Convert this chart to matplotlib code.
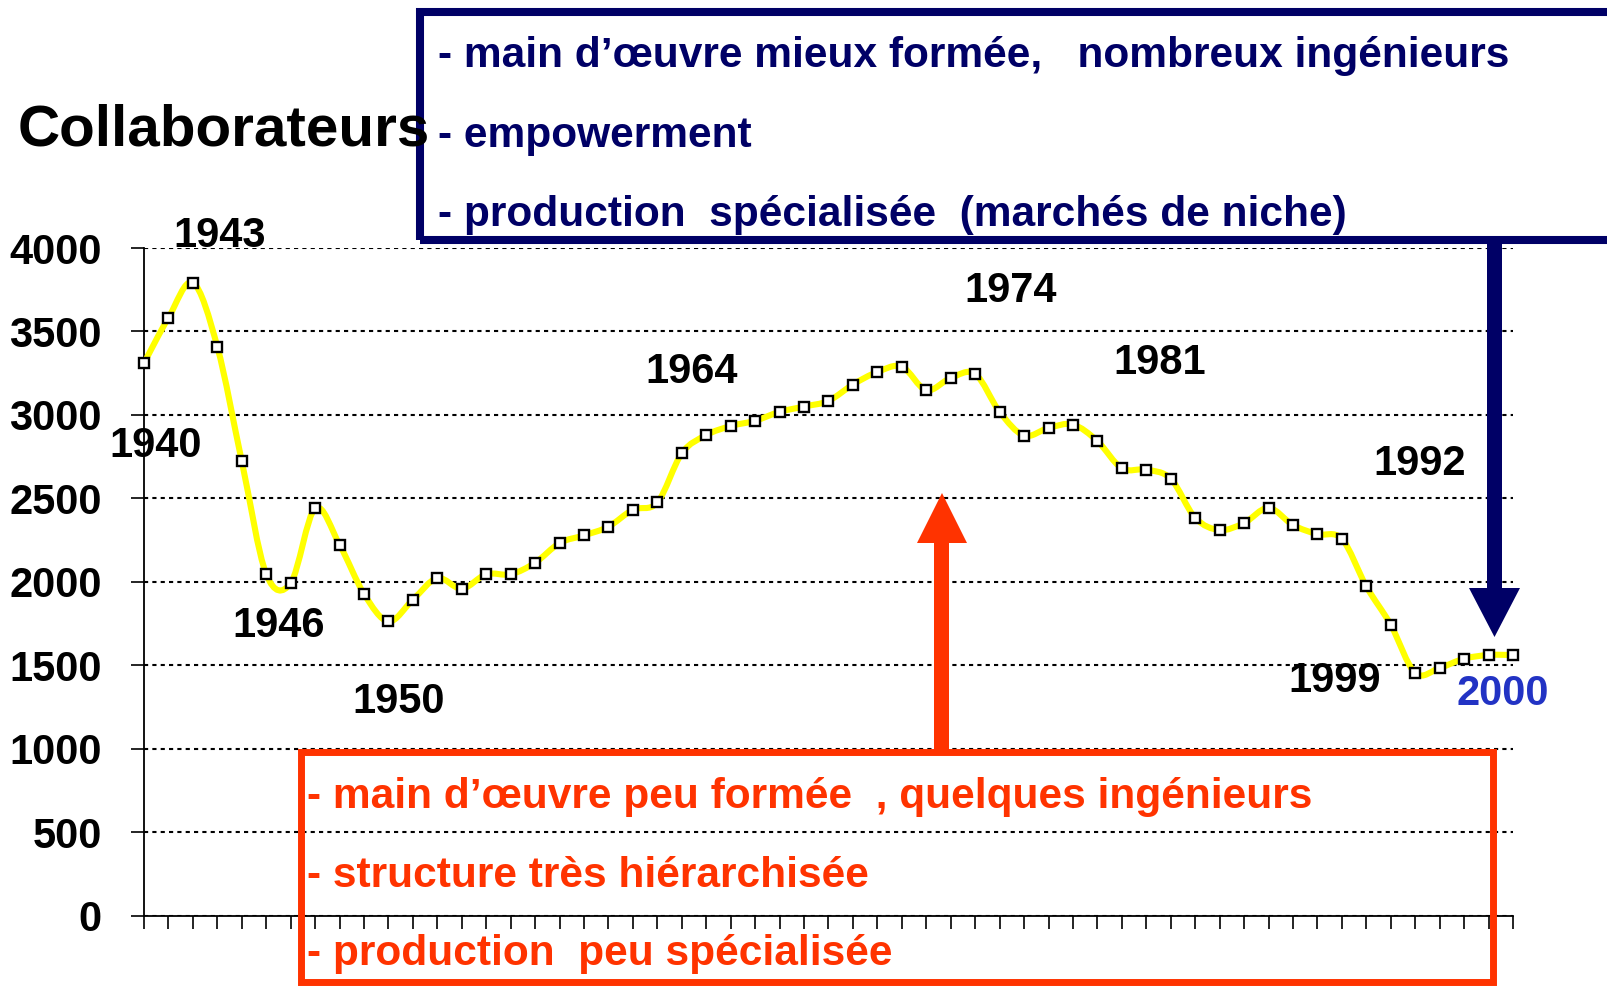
import matplotlib
matplotlib.use("Agg")
import matplotlib.pyplot as plt
from matplotlib.path import Path
from matplotlib.patches import PathPatch, Rectangle, Polygon
import numpy as np

# ---------------- data ----------------
values = [3310, 3582, 3792, 3408, 2722, 2046, 1992, 2440, 2222, 1927, 1762, 1893,
          2022, 1958, 2045, 2045, 2114, 2232, 2278, 2330, 2432, 2475, 2770, 2879,
          2933, 2965, 3018, 3050, 3084, 3182, 3257, 3289, 3148, 3221, 3245, 3018,
          2876, 2922, 2942, 2843, 2680, 2672, 2617, 2383, 2310, 2352, 2443, 2340,
          2285, 2257, 1972, 1742, 1453, 1484, 1539, 1561, 1561]
y_ticks = [0, 500, 1000, 1500, 2000, 2500, 3000, 3500, 4000]
year_labels = ["1940", "1943", "1946", "1950", "1964", "1974", "1981", "1992", "1999", "2000"]
title = "Collaborateurs"
blue_lines = ["- main d\u2019\u0153uvre mieux form\u00e9e,   nombreux ing\u00e9nieurs",
              "- empowerment",
              "- production  sp\u00e9cialis\u00e9e  (march\u00e9s de niche)"]
red_lines = ["- main d\u2019\u0153uvre peu form\u00e9e  , quelques ing\u00e9nieurs",
             "- structure tr\u00e8s hi\u00e9rarchis\u00e9e",
             "- production  peu sp\u00e9cialis\u00e9e"]

# ---------------- style ----------------
W, H = 1608, 986
FONT = ["Liberation Sans", "DejaVu Sans"]
plt.rcParams["font.family"] = FONT
NAVY = "#000066"
RED = "#FF3300"
BLUE2000 = "#2233C4"
BOXFS = 30.6

def P(x, y):
    return (x / W, 1 - y / H)

fig = plt.figure(figsize=(W / 100, H / 100), dpi=100)
ax_left, ax_right, ax_top, ax_bot = 144, 1513, 248, 915.5
ax = fig.add_axes([ax_left / W, (H - ax_bot) / H, (ax_right - ax_left) / W, (ax_bot - ax_top) / H])

x = np.arange(len(values))
y = np.array(values, dtype=float)

# smooth (Excel-like) bezier curve through data points
verts = [(x[0], y[0])]
codes = [Path.MOVETO]
n = len(x)
for i in range(n - 1):
    p0 = i - 1 if i > 0 else i
    p3 = i + 2 if i + 2 < n else i + 1
    c1 = (x[i] + (x[i + 1] - x[p0]) / 6.0, y[i] + (y[i + 1] - y[p0]) / 6.0)
    c2 = (x[i + 1] - (x[p3] - x[i]) / 6.0, y[i + 1] - (y[p3] - y[i]) / 6.0)
    verts += [c1, c2, (x[i + 1], y[i + 1])]
    codes += [Path.CURVE4] * 3
ax.add_patch(PathPatch(Path(verts, codes), facecolor="none", edgecolor="#FFFF00",
                       linewidth=4.4, zorder=3, clip_on=False, capstyle="round",
                       joinstyle="round"))
ax.plot(x, y, linestyle="none", marker="s", markersize=7.4, markerfacecolor="white",
        markeredgecolor="black", markeredgewidth=1.7, zorder=4, clip_on=False)

ax.set_xlim(0, n - 1)
ax.set_ylim(0, 4000)
ax.set_yticks(y_ticks)
ax.set_yticklabels([str(v) for v in y_ticks], fontsize=30, fontweight="bold")
ax.set_xticks(x)
ax.tick_params(axis="x", labelbottom=False, direction="out", length=9.4, width=1.2, color="black")
ax.tick_params(axis="y", direction="out", length=9.4, width=1.2, pad=21, color="black")
for s in ["top", "right"]:
    ax.spines[s].set_visible(False)
for s in ["left", "bottom"]:
    ax.spines[s].set_linewidth(1.3)
    ax.spines[s].set_color("black")
ax.yaxis.grid(True, color="black", linestyle=(0, (2.0, 2.0)), linewidth=1.5)
ax.set_axisbelow(True)
ax.patch.set_alpha(0)

# ---------------- texts ----------------
fig.text(*P(18, 145), title, fontsize=42, fontweight="bold", ha="left", va="baseline", color="black")

label_pos = [(109, 457), (173, 247), (232, 637), (352, 713), (645, 383),
             (964, 302), (1113, 374), (1373, 475), (1288, 692), (1457, 705)]
for lab, (px, py) in zip(year_labels, label_pos):
    col = BLUE2000 if lab == "2000" else "black"
    fig.text(*P(px, py), lab, fontsize=30, fontweight="bold", ha="left", va="baseline", color=col, zorder=5)

for line, by in zip(blue_lines, [67, 147, 226]):
    fig.text(*P(438, by), line, fontsize=BOXFS, fontweight="bold", ha="left", va="baseline", color=NAVY)
for line, by in zip(red_lines, [808, 887, 965]):
    fig.text(*P(307, by), line, fontsize=BOXFS, fontweight="bold", ha="left", va="baseline", color=RED)

# ---------------- boxes ----------------
bl = P(420, 240)
tr = P(1611, 12)
fig.add_artist(Rectangle(bl, tr[0] - bl[0], tr[1] - bl[1], transform=fig.transFigure,
                         fill=False, edgecolor=NAVY, linewidth=5.8, zorder=2))
bl = P(301, 982)
tr = P(1493, 752)
fig.add_artist(Rectangle(bl, tr[0] - bl[0], tr[1] - bl[1], transform=fig.transFigure,
                         fill=False, edgecolor=RED, linewidth=5.0, zorder=2))

# ---------------- arrows ----------------
navy_arrow = [P(1487, 244), P(1502, 244), P(1502, 588), P(1520, 588), P(1494.5, 637),
              P(1469, 588), P(1487, 588)]
fig.add_artist(Polygon(navy_arrow, closed=True, transform=fig.transFigure,
                       facecolor=NAVY, edgecolor="none", zorder=2))
red_arrow = [P(934, 750), P(949, 750), P(949, 543), P(967, 543), P(942, 493),
             P(917, 543), P(934, 543)]
fig.add_artist(Polygon(red_arrow, closed=True, transform=fig.transFigure,
                       facecolor=RED, edgecolor="none", zorder=2))

fig.savefig("out.png", dpi=100)
